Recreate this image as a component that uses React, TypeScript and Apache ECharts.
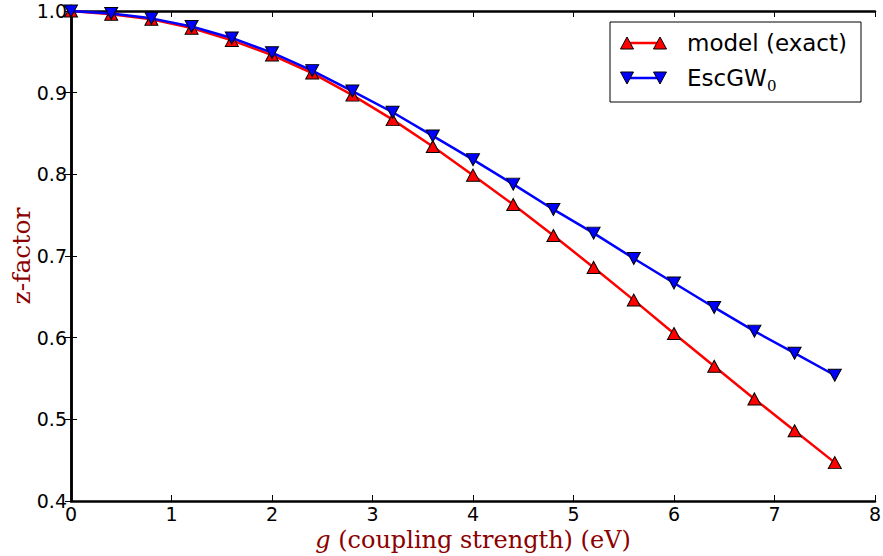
import React, { useEffect, useRef } from "react";
import * as echarts from "echarts";

const gValues = [0, 0.4, 0.8, 1.2, 1.6, 2.0, 2.4, 2.8, 3.2, 3.6, 4.0, 4.4, 4.8, 5.2, 5.6, 6.0, 6.4, 6.8, 7.2, 7.6];
const modelExact = [1.0, 0.996, 0.99, 0.979, 0.964, 0.946, 0.924, 0.897, 0.867, 0.834, 0.799, 0.763, 0.725, 0.686, 0.646, 0.605, 0.565, 0.525, 0.486, 0.447];
const escGW0 = [1.0, 0.997, 0.991, 0.981, 0.967, 0.949, 0.927, 0.902, 0.876, 0.847, 0.818, 0.788, 0.757, 0.728, 0.697, 0.667, 0.637, 0.608, 0.581, 0.554];
const seriesNames = ["model (exact)", "EscGW"];
const xTickLabels = ["0", "1", "2", "3", "4", "5", "6", "7", "8"];

const SANS = "DejaVu Sans";
const SERIF = "DejaVu Serif";
const DARKRED = "#8b0000";

export default function App() {
  const ref = useRef<HTMLDivElement>(null);
  useEffect(() => {
    if (!ref.current) return;
    const chart = echarts.init(ref.current, null, { renderer: "svg" });
    const tickLine = { show: true, lineStyle: { color: "#000", width: 2.5 } };
    const ticks = { show: true, inside: true, length: 6, lineStyle: { color: "#000", width: 1 } };
    const legX = 610, legY = 22, legW = 251, legH = 80;
    const legendEntry = (y: number, color: string, rot: number) => {
      const tri = (cx: number) => ({
        type: "polygon",
        shape: {
          points:
            rot === 0
              ? [[cx - 6.5, y + 6], [cx + 6.5, y + 6], [cx, y - 6]]
              : [[cx - 6.5, y - 6], [cx + 6.5, y - 6], [cx, y + 6]],
        },
        style: { fill: color, stroke: "#000", lineWidth: 1 },
        z: 101,
      });
      return [
        { type: "line", shape: { x1: 627, y1: y, x2: 660, y2: y }, style: { stroke: color, lineWidth: 2.5 }, z: 100 },
        tri(627),
        tri(660),
      ];
    };
    chart.setOption({
      animation: false,
      grid: { left: 71, top: 11, right: 8, bottom: 55, containLabel: false, outerBoundsMode: "none" },
      xAxis: [
        {
          type: "value",
          min: 0,
          max: 8,
          interval: 1,
          axisLine: tickLine,
          axisTick: ticks,
          splitLine: { show: false },
          axisLabel: {
            color: "#000",
            fontFamily: SANS,
            fontSize: 19,
            margin: 3,
            formatter: (v: number) => xTickLabels[Math.round(v)] ?? String(v),
          },
          name: "{i|g} (coupling strength) (eV)",
          nameLocation: "middle",
          nameGap: 27,
          nameMoveOverlap: false,
          nameTextStyle: {
            color: DARKRED,
            fontFamily: SERIF,
            fontSize: 24,
            rich: {
              i: { fontStyle: "italic", fontFamily: SERIF, fontSize: 24, color: DARKRED },
            },
          },
        },
        {
          type: "value",
          position: "top",
          min: 0,
          max: 8,
          interval: 1,
          axisLine: tickLine,
          axisTick: ticks,
          splitLine: { show: false },
          axisLabel: { show: false },
        },
      ],
      yAxis: [
        {
          type: "value",
          min: 0.4,
          max: 1.0,
          interval: 0.1,
          axisLine: tickLine,
          axisTick: ticks,
          splitLine: { show: false },
          axisLabel: {
            color: "#000",
            fontFamily: SANS,
            fontSize: 19,
            margin: 4,
            formatter: (v: number) => v.toFixed(1),
          },
          name: "z-factor",
          nameLocation: "middle",
          nameGap: 37,
          nameMoveOverlap: false,
          nameTextStyle: { color: DARKRED, fontFamily: SERIF, fontSize: 25 },
        },
        {
          type: "value",
          position: "right",
          min: 0.4,
          max: 1.0,
          interval: 0.1,
          axisLine: tickLine,
          axisTick: ticks,
          splitLine: { show: false },
          axisLabel: { show: false },
        },
      ],
      series: [
        {
          name: seriesNames[0],
          type: "line",
          data: gValues.map((g, i) => [g, modelExact[i]]),
          lineStyle: { color: "#ff0000", width: 2.5 },
          itemStyle: { color: "#ff0000", borderColor: "#000", borderWidth: 1 },
          symbol: "triangle",
          symbolSize: [13, 12],
          showSymbol: true,
          z: 2,
        },
        {
          name: seriesNames[1],
          type: "line",
          data: gValues.map((g, i) => [g, escGW0[i]]),
          lineStyle: { color: "#0000ff", width: 2.5 },
          itemStyle: { color: "#0000ff", borderColor: "#000", borderWidth: 1 },
          symbol: "triangle",
          symbolRotate: 180,
          symbolSize: [13, 12],
          showSymbol: true,
          z: 3,
        },
      ],
      graphic: [
        {
          type: "rect",
          shape: { x: legX, y: legY, width: legW, height: legH },
          style: { fill: "#fff", stroke: "#000", lineWidth: 1 },
          z: 99,
        },
        ...legendEntry(43, "#ff0000", 0),
        ...legendEntry(78, "#0000ff", 180),
        {
          type: "text",
          x: 687,
          y: 43,
          style: { text: seriesNames[0], fontFamily: SANS, fontSize: 23, fill: "#000", verticalAlign: "middle" },
          z: 101,
        },
        {
          type: "text",
          x: 687,
          y: 78,
          style: { text: seriesNames[1], fontFamily: SANS, fontSize: 23, fill: "#000", verticalAlign: "middle" },
          z: 101,
        },
        {
          type: "text",
          x: 767,
          y: 86,
          style: { text: "0", fontFamily: SERIF, fontSize: 15, fill: "#000", verticalAlign: "middle" },
          z: 101,
        },
      ],
    });
    return () => chart.dispose();
  }, []);
  return <div ref={ref} style={{ width: 883, height: 556, position: "absolute", left: 0, top: 0 }} />;
}
